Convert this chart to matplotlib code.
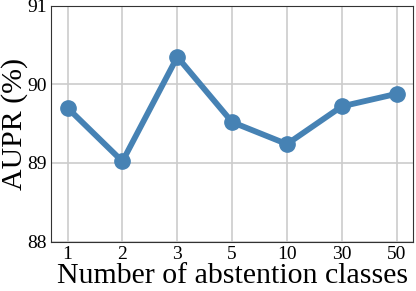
import matplotlib
matplotlib.use("Agg")
import matplotlib.pyplot as plt

categories = ["1", "2", "3", "5", "10", "30", "50"]
aupr = [89.70, 89.02, 90.35, 89.52, 89.24, 89.72, 89.88]
yticks = [88, 89, 90, 91]

plt.rcParams["font.family"] = ["Liberation Serif", "DejaVu Serif"]

fig, ax = plt.subplots(figsize=(4.16, 2.91), dpi=100)
x = range(len(categories))
ax.plot(x, aupr, color="#4682b4", linewidth=4.2, marker="o", markersize=11, zorder=3)

ax.set_xticks(list(x))
ax.set_xticklabels(categories)
ax.set_xlim(-0.3, len(categories) - 0.7)
ax.set_ylim(88, 91)
ax.set_yticks(yticks)
ax.tick_params(labelsize=14, length=0, pad=3)
ax.grid(True, color="#cccccc", linewidth=1.2)
ax.set_axisbelow(True)
for s in ax.spines.values():
    s.set_color("#333333")

ax.set_xlabel("Number of abstention classes", fontsize=21.5, labelpad=0)
ax.set_ylabel("AUPR (%)", fontsize=21.5, labelpad=-0.5)

fig.subplots_adjust(left=0.123, right=0.993, top=0.98, bottom=0.17)
fig.savefig("out.png", dpi=100)
